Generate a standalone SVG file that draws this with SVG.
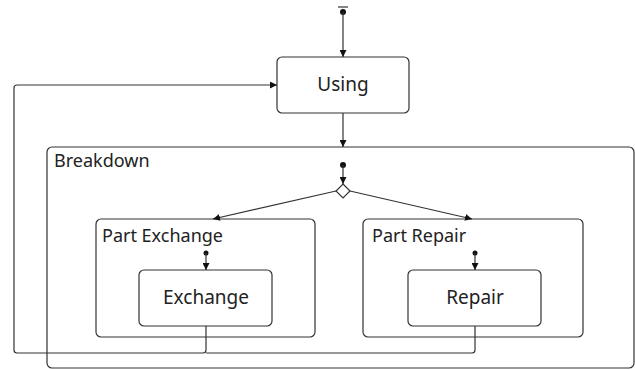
<svg xmlns="http://www.w3.org/2000/svg" width="635" height="370" viewBox="0 0 635 370">
<style>
.box{fill:#fff;stroke:#333;stroke-width:1.2}
.lbl{font-family:"Noto Sans","Open Sans",sans-serif;font-size:18px;fill:#222}
.cl{font-family:"Noto Sans","Open Sans",sans-serif;font-size:19px;fill:#222;text-anchor:middle}
.ln{fill:none;stroke:#333;stroke-width:1.2}
</style>
<defs>
<marker id="ah" viewBox="0 0 10 10" refX="10" refY="5" markerWidth="7" markerHeight="7" orient="auto" markerUnits="userSpaceOnUse">
<path d="M0,0 L10,5 L0,10 z" fill="#111"/>
</marker>
</defs>
<rect width="635" height="370" fill="#fff"/>
<g id="breakdown">
<rect class="box" x="47" y="147" width="587" height="221" rx="5"/>
<text class="lbl" x="54" y="167">Breakdown</text>
</g>
<g id="using">
<rect class="box" x="277" y="57" width="132" height="56" rx="5"/>
<text class="cl" x="343" y="91">Using</text>
</g>
<g id="part-exchange">
<rect class="box" x="96" y="219" width="219" height="118" rx="5"/>
<text class="lbl" x="102" y="242">Part Exchange</text>
</g>
<g id="exchange">
<rect class="box" x="139" y="270" width="133" height="56" rx="5"/>
<text class="cl" x="206" y="304">Exchange</text>
</g>
<g id="part-repair">
<rect class="box" x="363" y="219" width="220" height="118" rx="5"/>
<text class="lbl" x="372" y="242">Part Repair</text>
</g>
<g id="repair">
<rect class="box" x="408" y="270" width="133" height="56" rx="5"/>
<text class="cl" x="475" y="304">Repair</text>
</g>
<g id="initial-top">
<line x1="338" y1="7" x2="348" y2="7" stroke="#333" stroke-width="1.2"/>
<circle cx="343" cy="12" r="3" fill="#111"/>
</g>
<g id="initial-breakdown"><circle cx="343" cy="165" r="3" fill="#111"/></g>
<g id="decision"><path d="M343,184 L350,191 L343,198 L336,191 z" fill="#fff" stroke="#333" stroke-width="1.2"/></g>
<g id="initial-exchange"><circle cx="206" cy="253" r="2.5" fill="#111"/></g>
<g id="initial-repair"><circle cx="475" cy="253" r="2.5" fill="#111"/></g>
<g id="connectors">
<line class="ln" x1="343" y1="12" x2="343" y2="57" marker-end="url(#ah)"/>
<line class="ln" x1="343" y1="113" x2="343" y2="147" marker-end="url(#ah)"/>
<line class="ln" x1="343" y1="165" x2="343" y2="184" marker-end="url(#ah)"/>
<line class="ln" x1="336" y1="191" x2="213" y2="219" marker-end="url(#ah)"/>
<line class="ln" x1="350" y1="191" x2="472" y2="219" marker-end="url(#ah)"/>
<line class="ln" x1="206" y1="253" x2="206" y2="270" marker-end="url(#ah)"/>
<line class="ln" x1="475" y1="253" x2="475" y2="270" marker-end="url(#ah)"/>
<path class="ln" d="M206,326 L206,350 Q206,353 203,353 L17,353 Q14,353 14,350 L14,88 Q14,85 17,85 L277,85" marker-end="url(#ah)"/>
<path class="ln" d="M475,326 L475,350 Q475,353 472,353 L206,353"/>
</g>
</svg>
